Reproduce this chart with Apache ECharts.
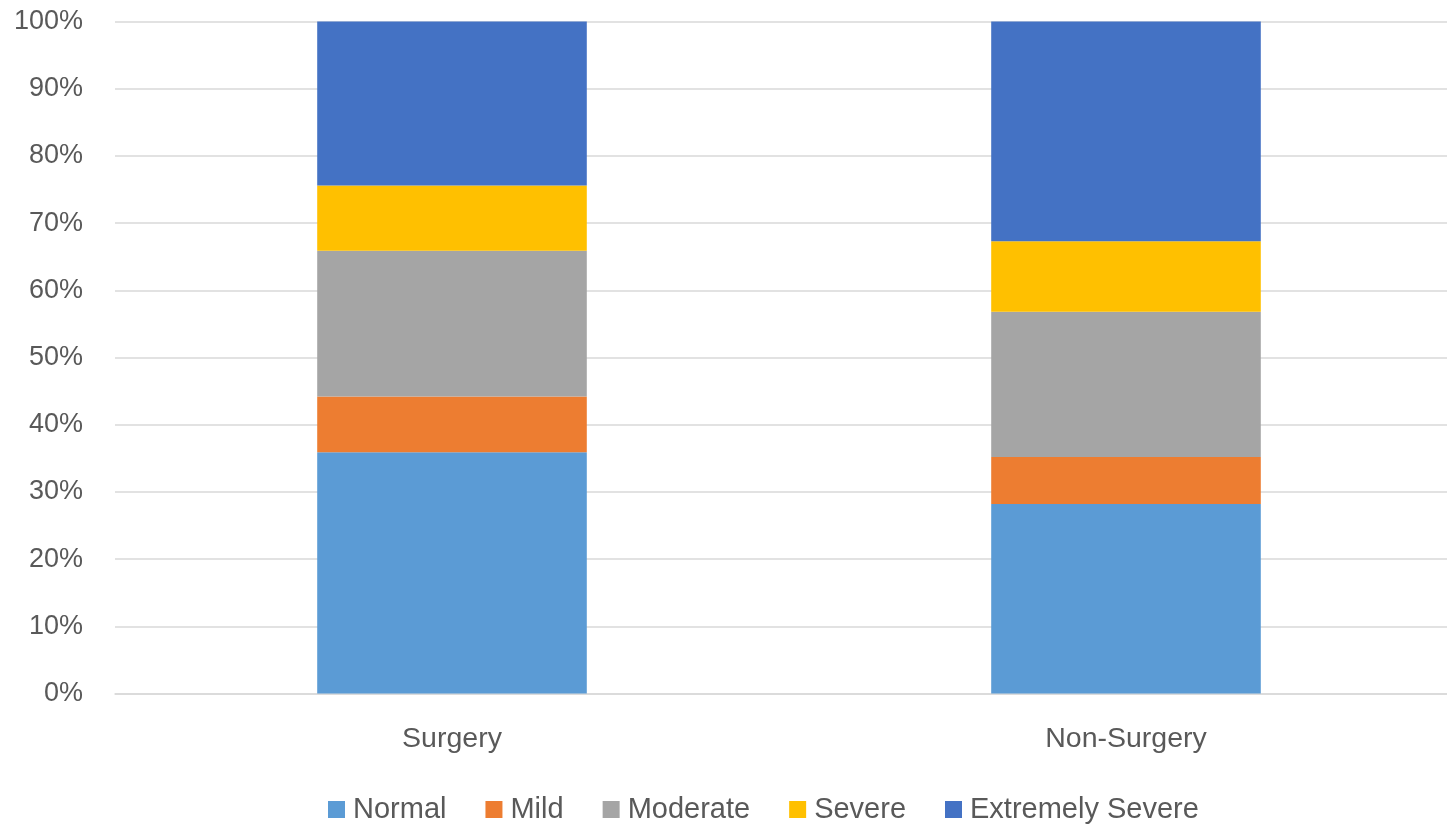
<!DOCTYPE html>
<html>
<head>
<meta charset="utf-8">
<script src="https://cdn.jsdelivr.net/npm/echarts@6/dist/echarts.min.js"></script>
<style>
  html, body { margin: 0; padding: 0; background: #ffffff; overflow: hidden; }
  #wrap { width: 1447px; height: 828px; overflow: hidden; }
  /* drawing surface runs a little past the visible right edge */
  #chart { width: 1463px; height: 828px; }
</style>
</head>
<body>
<div id="wrap"><div id="chart"></div></div>
<script>
// Share of each severity level per group (percent of group)
const categories = ['Surgery', 'Non-Surgery'];
const normal = [35.9, 28.2];
const mild = [8.3, 7.0];
const moderate = [21.7, 21.6];
const severe = [9.7, 10.5];
const extremelySevere = [24.4, 32.7];
const yTicks = [0, 10, 20, 30, 40, 50, 60, 70, 80, 90, 100];

const seriesDefs = [
  { name: 'Normal', data: normal, color: '#5B9BD5' },
  { name: 'Mild', data: mild, color: '#ED7D31' },
  { name: 'Moderate', data: moderate, color: '#A5A5A5' },
  { name: 'Severe', data: severe, color: '#FFC000' },
  { name: 'Extremely Severe', data: extremelySevere, color: '#4472C4' }
];

const font = '"Liberation Sans", "DejaVu Sans", sans-serif';
const chart = echarts.init(document.getElementById('chart'), null, { renderer: 'canvas' });

chart.setOption({
  animation: false,
  backgroundColor: '#ffffff',
  grid: { left: 115, right: 0, top: 21.5, bottom: 134.5, containLabel: false },
  legend: {
    bottom: -1,
    left: 323,
    itemWidth: 17,
    itemHeight: 17,
    itemGap: 39,
    icon: 'rect',
    textStyle: { color: '#595959', fontSize: 29, fontFamily: font, padding: [0, 0, 0, 3] },
    data: seriesDefs.map(s => s.name)
  },
  xAxis: {
    type: 'category',
    data: categories,
    axisTick: { show: false },
    axisLine: { show: true, lineStyle: { color: '#d9d9d9', width: 1.5 } },
    axisLabel: { color: '#595959', fontSize: 28.5, fontFamily: font, margin: 31 }
  },
  yAxis: {
    type: 'value',
    min: yTicks[0],
    max: yTicks[yTicks.length - 1],
    interval: 10,
    axisLine: { show: false },
    axisTick: { show: false },
    splitLine: { lineStyle: { color: '#d9d9d9', width: 1.5 } },
    axisLabel: { color: '#595959', fontSize: 27, fontFamily: font, margin: 32, formatter: '{value}%' }
  },
  series: seriesDefs.map(s => ({
    name: s.name,
    type: 'bar',
    stack: 'total',
    barWidth: '40%',
    data: s.data,
    itemStyle: { color: s.color }
  }))
});
</script>
</body>
</html>
